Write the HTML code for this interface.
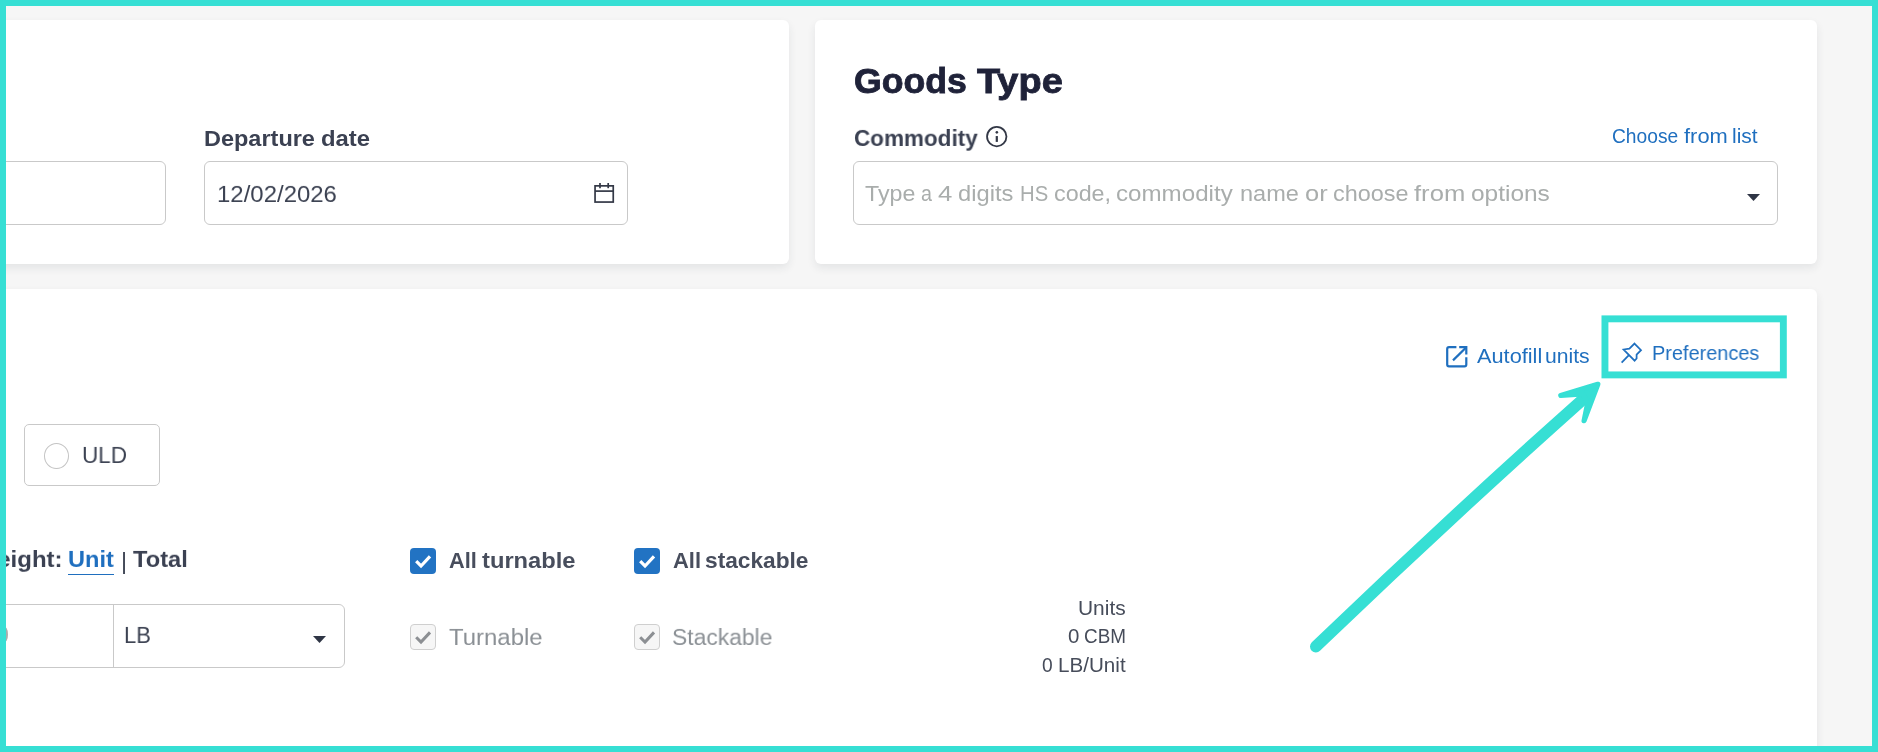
<!DOCTYPE html>
<html lang="en">
<head>
<meta charset="utf-8">
<title>Shipment details</title>
<style>
  html, body { margin: 0; padding: 0; }
  body {
    width: 1878px; height: 752px; overflow: hidden; position: relative;
    background: #f6f6f6;
    font-family: "Liberation Sans", sans-serif;
    color: #3c4252;
  }
  .abs { position: absolute; }
  .card { position: absolute; background: #fff; border-radius: 6px;
          box-shadow: 0 4px 8px rgba(40,50,60,0.085); }
  .t { position: absolute; white-space: nowrap; line-height: 1; will-change: transform; }
  .b { font-weight: bold; color: #3b4152; }
  .w { position: absolute; top: 0; left: 0; transform-origin: 0 0; white-space: nowrap; }
  .field { position: absolute; box-sizing: border-box; border: 1px solid #c9c9c9;
           border-radius: 6px; background: #fff; }
  .blue, .b.blue { color: #1f6fbf; }
  .frame { position: absolute; left: 0; top: 0; width: 1878px; height: 752px;
           box-sizing: border-box; border: 6px solid #36dfd4; pointer-events: none; z-index: 50; }
  .cb { position: absolute; width: 26px; height: 26px; box-sizing: border-box; border-radius: 4px; }
  .cb.on { background: #2273c3; }
  .cb.off { background: #f6f6f6; border: 1px solid #cfcfcf; }
  svg { position: absolute; overflow: visible; }
</style>
</head>
<body>

<!-- top-left card -->
<div class="card" style="left:-40px; top:20px; width:829px; height:244px;"></div>
<div class="field" style="left:-40px; top:161px; width:206px; height:64px;"></div>
<span class="t b" id="dep" style="left:0px; top:128.01px; font-size:23px;"><span class="w" style="left:203.87px; transform:scale(1.021,0.947);">Departure</span> <span class="w" style="left:320.97px; transform:scale(1.037,0.947);">date</span></span>
<div class="field" style="left:204px; top:161px; width:424px; height:64px;"></div>
<span class="t" id="date" style="left:0px; top:183.91px; font-size:23px;"><span class="w" style="left:216.93px; transform:scale(1.042,0.947);">12/02/2026</span></span>
<svg id="cal" style="left:594px; top:183px;" width="21" height="21" viewBox="0 0 21 21" fill="none" stroke="#333846" stroke-width="1.7">
  <rect x="1.05" y="2.85" width="18.2" height="16.2"/>
  <line x1="1" y1="8.1" x2="19.3" y2="8.1"/>
  <line x1="6" y1="0" x2="6" y2="5.2"/>
  <line x1="14.2" y1="0" x2="14.2" y2="5.2"/>
</svg>

<!-- goods type card -->
<div class="card" style="left:815px; top:20px; width:1002px; height:244px;"></div>
<span class="t b" id="goods" style="left:0px; top:63.98px; font-size:36.8px; color:#1f2239; -webkit-text-stroke:0.9px #1f2239;"><span class="w" style="left:853.89px; transform:scale(0.969,0.975);">Goods</span> <span class="w" style="left:977.1px; transform:scale(1.031,0.975);">Type</span></span>
<span class="t b" id="comm" style="left:0px; top:128.01px; font-size:23px;"><span class="w" style="left:853.52px; transform:scale(0.978,0.947);">Commodity</span></span>
<svg id="info" style="left:986px; top:126px;" width="22" height="22" viewBox="0 0 22 22">
  <circle cx="10.75" cy="10.6" r="9.7" fill="none" stroke="#333846" stroke-width="1.8"/>
  <rect x="9.7" y="10.05" width="2.2" height="5.85" fill="#333846"/>
  <circle cx="10.85" cy="6.35" r="1.3" fill="#333846"/>
</svg>
<span class="t blue" id="choose" style="left:0px; top:126px; font-size:20px;"><span class="w" style="left:1612.24px; transform:scaleX(0.96);">Choose</span> <span class="w" style="left:1683.68px; transform:scaleX(1.095);">from</span> <span class="w" style="left:1732.44px; transform:scaleX(1.048);">list</span></span>
<div class="field" style="left:853px; top:161px; width:925px; height:64px;"></div>
<span class="t" id="ph" style="left:0px; top:183.01px; font-size:23px; color:#a9adac;"><span class="w" style="left:864.7px; transform:scale(1.009,0.947);">Type</span> <span class="w" style="left:920.73px; transform:scale(0.857,0.947);">a</span> <span class="w" style="left:938.04px; transform:scale(1.12,0.947);">4</span> <span class="w" style="left:957.87px; transform:scale(1.031,0.947);">digits</span> <span class="w" style="left:1019.61px; transform:scale(0.883,0.947);">HS</span> <span class="w" style="left:1053.79px; transform:scale(1.014,0.947);">code,</span> <span class="w" style="left:1115.86px; transform:scale(1.05,0.947);">commodity</span> <span class="w" style="left:1239.77px; transform:scale(1.023,0.947);">name</span> <span class="w" style="left:1305.01px; transform:scale(1.105,0.947);">or</span> <span class="w" style="left:1332.68px; transform:scale(1.018,0.947);">choose</span> <span class="w" style="left:1414.37px; transform:scale(1.114,0.947);">from</span> <span class="w" style="left:1470.54px; transform:scale(1.063,0.947);">options</span></span>
<svg style="left:1747px; top:194px;" width="13" height="7" viewBox="0 0 13 7"><path d="M0 0 H13 L6.5 7 Z" fill="#2f3545"/></svg>

<!-- bottom card -->
<div class="card" style="left:-40px; top:289px; width:1857px; height:520px;"></div>

<svg id="ext" style="left:1446px; top:346px;" width="22" height="22" viewBox="0 0 22 22" fill="none" stroke="#1f6fbf" stroke-width="2.2">
  <path d="M10.4 1.2 H3 Q1.2 1.2 1.2 3 V18.5 Q1.2 20.3 3 20.3 H18.5 Q20.3 20.3 20.3 18.5 V11.3"/>
  <path d="M13.2 1.2 H20.3 V8.5"/>
  <path d="M19.8 1.7 L7 14.4"/>
</svg>
<span class="t blue" id="auto" style="left:0px; top:346px; font-size:20px;"><span class="w" style="left:1477.1px; transform:scaleX(1.087);">Autofill</span> <span class="w" style="left:1545.33px; transform:scaleX(1.058);">units</span></span>

<svg id="hl" style="left:0; top:0;" width="1878" height="752" viewBox="0 0 1878 752"><rect x="1604.95" y="318.85" width="178.4" height="56.05" fill="none" stroke="#36dfd4" stroke-width="6.9"/></svg>
<svg id="pin" style="left:1620px; top:342px;" width="23" height="22" viewBox="0 0 23 22" fill="none" stroke="#1f6fbf" stroke-width="1.75" stroke-linejoin="miter" stroke-linecap="butt">
  <path d="M14.5 1.6 L21 8.2 L16.6 12.6 L16.6 16.5 L14.6 18.7 L3.6 7.5 L9.4 6.6 Z"/>
  <path d="M8.9 13.1 L1.6 20.6"/>
</svg>
<span class="t blue" id="pref" style="left:0px; top:343px; font-size:20px;"><span class="w" style="left:1652.11px; transform:scaleX(0.995);">Preferences</span></span>

<!-- arrow -->
<svg id="arrow" style="left:0; top:0;" width="1878" height="752" viewBox="0 0 1878 752">
  <path d="M1315.9 646.6 Q1451.9 516 1588 394.8" fill="none" stroke="#36dfd4" stroke-width="11.8" stroke-linecap="round"/>
  <path d="M1597.8 384.3 L1560.8 395.5 L1583 394 L1587.7 403.1 L1584.1 420.7 Z" fill="#36dfd4" stroke="#36dfd4" stroke-width="5.2" stroke-linejoin="round"/>
</svg>

<!-- ULD -->
<div class="field" style="left:24px; top:424px; width:136px; height:62px; border-radius:5px;"></div>
<div class="abs" style="left:44px; top:443px; width:25px; height:26px; box-sizing:border-box; border:1px solid #c4c4c4; border-radius:50%; background:#fff;"></div>
<span class="t" id="uld" style="left:0px; top:444.91px; font-size:23px;"><span class="w" style="left:81.54px; transform:scale(0.977,0.947);">ULD</span></span>

<!-- weight row -->
<span class="t b" id="eight" style="left:0px; top:548.91px; font-size:23px;"><span class="w" style="left:-24.6px; transform:scale(1.044,0.947);">Weight:</span></span>
<span class="t b blue" id="unit" style="left:0px; top:548.91px; font-size:23px;"><span class="w" style="left:68.47px; transform:scale(1.024,0.947);">Unit</span></span>
<div class="abs" style="left:68px; top:573.5px; width:46px; height:1.6px; background:#1f6fbf;"></div>
<span class="t" id="bar" style="left:120.7px; top:550.28px; font-size:23.2px;">|</span>
<span class="t b" id="total" style="left:0px; top:548.91px; font-size:23px;"><span class="w" style="left:132.89px; transform:scale(1.028,0.947);">Total</span></span>

<div class="field" style="left:-40px; top:604px; width:385px; height:64px;"></div>
<div class="abs" style="left:113px; top:604px; width:1px; height:64px; background:#c9c9c9;"></div>
<span class="t" id="zero" style="left:-4.4px; top:623.98px; font-size:23.2px; color:#a9adac;">0</span>
<span class="t" id="lb" style="left:0px; top:624.91px; font-size:23px;"><span class="w" style="left:124.48px; transform:scale(0.957,0.947);">LB</span></span>
<svg style="left:313px; top:636px;" width="13" height="7" viewBox="0 0 13 7"><path d="M0 0 H13 L6.5 7 Z" fill="#2f3545"/></svg>

<!-- checkboxes -->
<div class="cb on" style="left:410px; top:548px;"></div>
<svg style="left:410px; top:548px;" width="26" height="26" viewBox="0 0 26 26"><path d="M6.2 13.2 L11 18 L20 8.4" fill="none" stroke="#fff" stroke-width="3.2"/></svg>
<span class="t b" id="allturn" style="left:0px; top:550.21px; font-size:23px; color:#484e5d;"><span class="w" style="left:448.73px; transform:scale(0.945,0.947);">All</span> <span class="w" style="left:481.79px; transform:scale(1.031,0.947);">turnable</span></span>

<div class="cb on" style="left:634px; top:548px;"></div>
<svg style="left:634px; top:548px;" width="26" height="26" viewBox="0 0 26 26"><path d="M6.2 13.2 L11 18 L20 8.4" fill="none" stroke="#fff" stroke-width="3.2"/></svg>
<span class="t b" id="allstack" style="left:0px; top:550.21px; font-size:23px; color:#484e5d;"><span class="w" style="left:672.72px; transform:scale(0.952,0.947);">All</span> <span class="w" style="left:705.41px; transform:scale(0.987,0.947);">stackable</span></span>

<div class="cb off" style="left:410px; top:624px;"></div>
<svg style="left:410px; top:624px;" width="26" height="26" viewBox="0 0 26 26"><path d="M6.2 13.2 L11 18 L20 8.4" fill="none" stroke="#8c8f93" stroke-width="3"/></svg>
<span class="t" id="turn" style="left:0px; top:626.81px; font-size:23px; color:#8b9095;"><span class="w" style="left:448.68px; transform:scale(1.041,0.947);">Turnable</span></span>

<div class="cb off" style="left:634px; top:624px;"></div>
<svg style="left:634px; top:624px;" width="26" height="26" viewBox="0 0 26 26"><path d="M6.2 13.2 L11 18 L20 8.4" fill="none" stroke="#8c8f93" stroke-width="3"/></svg>
<span class="t" id="stack" style="left:0px; top:626.81px; font-size:23px; color:#8b9095;"><span class="w" style="left:672.21px; transform:scale(0.994,0.947);">Stackable</span></span>

<!-- units summary -->
<span class="t" id="u1" style="top:599.12px; font-size:19px; color:#464c5a; left:0px;"><span class="w" style="left:1077.96px; transform:scale(1.102,1.03);">Units</span></span>
<span class="t" id="u2" style="top:627.12px; font-size:19px; color:#464c5a; left:0px;"><span class="w" style="left:1067.55px; transform:scale(1.076,1.03);">0</span> <span class="w" style="left:1083.7px; transform:scale(0.995,1.03);">CBM</span></span>
<span class="t" id="u3" style="top:656.12px; font-size:19px; color:#464c5a; left:0px;"><span class="w" style="left:1042.39px; transform:scale(1.011,1.03);">0</span> <span class="w" style="left:1057.77px; transform:scale(1.085,1.03);">LB/Unit</span></span>

<div class="frame"></div>
</body>
</html>
